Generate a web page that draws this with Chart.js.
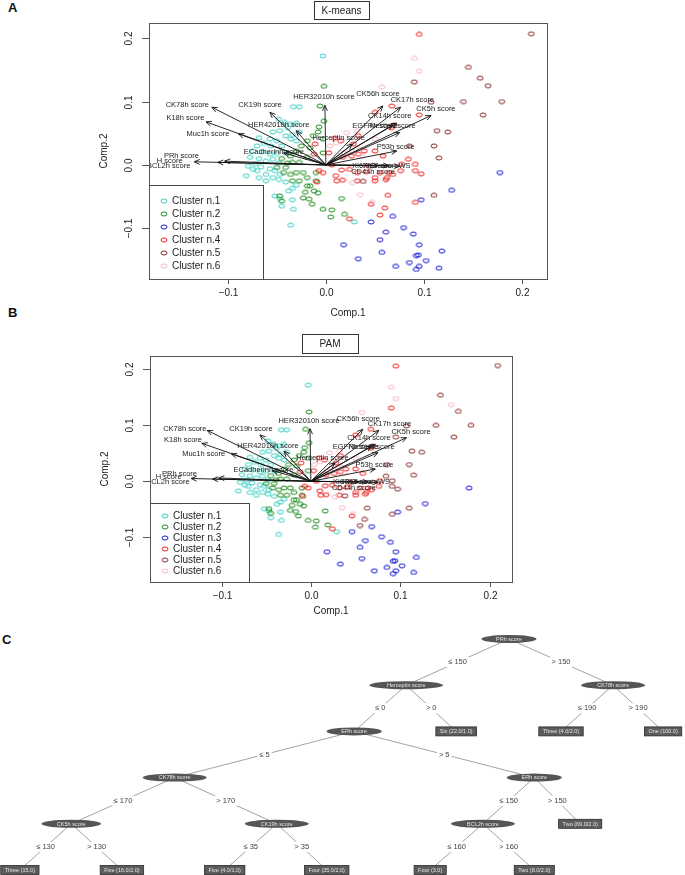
<!DOCTYPE html>
<html>
<head>
<meta charset="utf-8">
<script src="https://cdn.jsdelivr.net/npm/chart.js@4.4.1/dist/chart.umd.min.js"></script>
<style>
  html,body{margin:0;padding:0;background:#fff;}
  #wrap{position:relative;width:685px;height:875px;overflow:hidden;font-family:"Liberation Sans",Arial,sans-serif;}
  canvas{position:absolute;left:0;}
  .tag{position:absolute;font-weight:bold;font-size:13px;color:#111;}
</style>
</head>
<body>
<div id="wrap">
  <div class="tag" style="left:8px;top:0px;">A</div>
  <div class="tag" style="left:8px;top:305px;">B</div>
  <div class="tag" style="left:2px;top:632px;">C</div>
  <canvas id="kmChart" width="685" height="330" style="top:0"></canvas>
  <canvas id="pamChart" width="685" height="295" style="top:325px"></canvas>
  <canvas id="treeChart" width="685" height="275" style="top:600px"></canvas>
</div>
<script>
'use strict';

// --- PCA scores, K-means clusters (Comp.1, Comp.2) ---
const kmC1 = [[-0.003,0.172],[-0.033,0.092],[-0.027,0.092],[-0.048,0.072],[-0.042,0.067],[-0.036,0.064],[-0.030,0.066],[-0.039,0.059],[-0.047,0.054],[-0.054,0.052],[-0.027,0.052],[-0.034,0.048],[-0.041,0.046],[-0.068,0.043],[-0.057,0.041],[-0.050,0.038],[-0.063,0.034],[-0.056,0.030],[-0.070,0.030],[-0.045,0.030],[-0.074,0.022],[-0.065,0.021],[-0.057,0.017],[-0.050,0.018],[-0.041,0.019],[-0.077,0.012],[-0.068,0.010],[-0.061,0.006],[-0.054,0.009],[-0.048,0.003],[-0.072,0.002],[-0.079,-0.002],[-0.066,-0.003],[-0.057,-0.006],[-0.052,-0.009],[-0.070,-0.009],[-0.061,-0.015],[-0.047,-0.015],[-0.068,-0.020],[-0.054,-0.020],[-0.061,-0.025],[-0.048,-0.023],[-0.041,-0.027],[-0.052,-0.049],[-0.047,-0.053],[-0.038,-0.041],[-0.034,-0.037],[-0.030,-0.032],[-0.034,-0.055],[-0.045,-0.065],[-0.033,-0.070],[-0.036,-0.095],[0.029,-0.090],[-0.036,0.041],[-0.030,0.038],[-0.081,-0.017],[-0.074,-0.007]];
const kmC2 = [[-0.002,0.124],[-0.006,0.093],[-0.002,0.069],[-0.007,0.060],[-0.008,0.052],[-0.013,0.046],[-0.003,0.041],[-0.019,0.038],[-0.025,0.030],[-0.016,0.027],[-0.003,0.019],[-0.030,0.022],[-0.036,0.014],[-0.045,0.010],[-0.019,0.012],[-0.027,0.004],[-0.039,0.003],[-0.050,-0.004],[-0.043,-0.012],[-0.036,-0.015],[-0.030,-0.012],[-0.023,-0.012],[-0.019,-0.020],[-0.027,-0.025],[-0.016,-0.033],[-0.010,-0.025],[-0.021,-0.043],[-0.012,-0.041],[-0.008,-0.044],[-0.023,-0.052],[-0.017,-0.054],[-0.045,-0.057],[-0.047,-0.049],[-0.014,-0.062],[-0.003,-0.070],[0.006,-0.071],[0.005,-0.082],[0.016,-0.053],[0.019,-0.078],[-0.034,0.004],[-0.041,-0.004],[-0.010,-0.012],[-0.034,-0.025],[-0.019,-0.033]];
const kmC3 = [[0.177,-0.012],[0.128,-0.040],[0.097,-0.055],[0.068,-0.081],[0.079,-0.099],[0.089,-0.109],[0.061,-0.106],[0.055,-0.118],[0.095,-0.126],[0.118,-0.136],[0.057,-0.138],[0.092,-0.143],[0.094,-0.142],[0.102,-0.151],[0.085,-0.154],[0.071,-0.160],[0.095,-0.160],[0.092,-0.165],[0.115,-0.163],[0.018,-0.126],[0.033,-0.148],[0.046,-0.090]];
const kmC4 = [[0.095,0.206],[0.095,0.079],[0.067,0.093],[0.084,0.009],[0.091,0.001],[0.077,0.001],[0.091,-0.009],[0.097,-0.014],[0.076,-0.009],[0.068,-0.015],[0.062,-0.020],[0.063,-0.048],[0.091,-0.059],[0.060,-0.068],[0.055,-0.079],[-0.011,0.033],[-0.012,0.017],[-0.007,-0.009],[-0.009,-0.027],[0.009,0.042],[0.015,0.038],[0.028,0.033],[0.033,0.046],[0.003,0.019],[0.017,0.012],[0.033,0.017],[0.039,0.022],[0.050,0.022],[0.058,0.014],[0.006,0.000],[-0.003,-0.012],[0.010,-0.017],[0.016,-0.008],[0.011,-0.025],[0.017,-0.024],[0.024,-0.007],[0.032,-0.012],[0.032,-0.025],[0.041,-0.011],[0.050,-0.020],[0.050,-0.025],[0.055,-0.012],[0.061,-0.023],[0.064,-0.012],[0.046,-0.062],[0.024,-0.085],[0.050,0.083],[0.069,0.063],[0.067,0.059],[0.026,0.014],[0.044,-0.002]];
const kmC5 = [[0.209,0.207],[0.090,0.131],[0.145,0.154],[0.157,0.137],[0.165,0.125],[0.140,0.100],[0.179,0.100],[0.160,0.079],[0.107,0.099],[0.113,0.054],[0.124,0.052],[0.110,0.030],[0.085,0.030],[0.115,0.011],[0.110,-0.048],[0.038,-0.026]];
const kmC6 = [[0.090,0.168],[0.095,0.148],[0.057,0.123],[0.004,0.030],[0.010,0.035],[0.019,0.019],[0.026,0.022],[0.035,0.025],[0.037,0.014],[0.027,-0.028],[0.035,-0.047],[0.047,-0.058],[0.021,0.051],[0.050,0.041],[0.032,0.054]];

// points that PAM puts in another cluster: [Comp.1, Comp.2, new cluster]
const pamMoves = [[0.157,0.137,6],[0.090,0.131,4],[0.095,0.079,5],[0.084,0.009,5],[0.091,0.001,5],[0.091,-0.009,5],[0.097,-0.014,5],[0.063,-0.048,5],[0.091,-0.059,5],[0.060,-0.068,5],[0.055,-0.079,5]];

const clusterNames  = ['Cluster n.1','Cluster n.2','Cluster n.3','Cluster n.4','Cluster n.5','Cluster n.6'];
const clusterColors = ['#3ccfc4','#1e8c1e','#1818d8','#f02020','#8b2c2c','#f7b8c2'];

// --- loadings: arrow tips and label anchors ---
const loadNames = ['CK78h score','K18h score','Muc1h score','CK19h score','HER42010h score','ECadherinh score','PRh score','H score','BCL2h score','HER32010h score','Herceptin score','CK56h score','CK17h score','CK5h score','CK14h score','EGFRh score','Nestinh score','P53h score','Ki67h score','Ki67 scoreWS','CD44h score'];
const loadTipX  = [-0.116,-0.122,-0.089,-0.057,-0.030,-0.043,-0.134,-0.110,-0.103,-0.001,0.027,0.058,0.076,0.107,0.072,0.068,0.075,0.072,0.075,0.064,0.053];
const loadTipY  = [0.091,0.068,0.049,0.083,0.054,0.019,0.005,0.004,0.006,0.094,0.033,0.093,0.091,0.078,0.066,0.063,0.051,0.022,-0.002,-0.001,-0.001];
const loadLabX  = [-0.141,-0.143,-0.120,-0.067,-0.048,-0.053,-0.147,-0.159,-0.160,-0.002,0.013,0.053,0.088,0.112,0.065,0.050,0.068,0.071,0.047,0.062,0.048];
const loadLabY  = [0.094,0.074,0.049,0.094,0.063,0.021,0.014,0.007,-0.002,0.108,0.042,0.112,0.103,0.089,0.077,0.061,0.061,0.029,-0.002,-0.002,-0.011];

const axisTicks = [-0.1, 0.0, 0.1, 0.2];

// --- decision tree (J48) ---
const treeLabels = ['PRh score','Herceptin score','CK78h score','ERh score','Six (22.0/1.0)','Three (4.0/2.0)','One (100.0)','CK78h score','ERh score','CK5h score','CK19h score','BCL2h score','Two (69.0/2.0)','Three (15.0)','Five (16.0/2.0)','Five (4.0/1.0)','Four (35.0/2.0)','Four (3.0)','Two (8.0/2.0)'];
const treeLeaf   = [0,0,0,0,1,1,1,0,0,0,0,0,1,1,1,1,1,1,1];
const treeParent = [-1,0,0,1,1,2,2,3,3,7,7,8,8,9,9,10,10,11,11];
const treeEdge   = ['','\u2264 150','> 150','\u2264 0','> 0','\u2264 190','> 190','\u2264 5','> 5','\u2264 170','> 170','\u2264 150','> 150','\u2264 130','> 130','\u2264 35','> 35','\u2264 160','> 160'];
const treeLevel  = [0,1,1,2,2,2,2,3,3,4,4,4,4,5,5,5,5,5,5];
const treeX      = [74.3,59.3,89.5,51.7,66.6,81.9,96.8,25.5,78.0,10.4,40.4,70.5,84.7,2.9,17.8,32.8,47.7,62.8,78.0];

const FONT = '"Liberation Sans", Arial, sans-serif';

function ring(color, w, h) {
    const c = document.createElement('canvas');
    c.width = w + 2; c.height = h + 2;
    const g = c.getContext('2d');
    g.strokeStyle = color; g.lineWidth = 1;
    g.beginPath(); g.ellipse(c.width/2, c.height/2, w/2, h/2, 0, 0, Math.PI*2); g.stroke();
    return c;
}

function clusterSets(lists, w, h) {
    return lists.map((pts, i) => ({
        label: clusterNames[i],
        data: pts.map(p => ({ x:p[0], y:p[1] })),
        pointStyle: ring(clusterColors[i], w, h),
        borderColor: clusterColors[i],
        order: 6 - i
    }));
}

function pamLists() {
    const out = [kmC1,kmC2,kmC3,kmC4,kmC5,kmC6].map(l => l.map(p => p.slice()));
    pamMoves.forEach(m => {
        let best = null, bd = 1e9;
        out.forEach((l, ci) => l.forEach((p, pi) => {
            const d = Math.hypot(p[0]-m[0], p[1]-m[1]);
            if (d < bd) { bd = d; best = [ci, pi]; }
        }));
        const p = out[best[0]].splice(best[1], 1)[0];
        out[m[2]-1].push(p);
    });
    return out;
}

const biplotPlugin = {
    id:'biplot',
    afterDatasetsDraw(chart, args, o) {
        const { ctx, chartArea:a, scales:{ x, y } } = chart;
        const x0 = x.getPixelForValue(0), y0 = y.getPixelForValue(0);
        ctx.save();
        ctx.beginPath(); ctx.rect(a.left, a.top, a.right-a.left, a.bottom-a.top); ctx.clip();
        ctx.strokeStyle = '#111'; ctx.lineWidth = 0.9;
        loadNames.forEach((n, i) => {
            const x1 = x.getPixelForValue(loadTipX[i]), y1 = y.getPixelForValue(loadTipY[i]);
            const ang = Math.atan2(y1-y0, x1-x0), L = 6, sp = 0.42;
            ctx.beginPath();
            ctx.moveTo(x0, y0); ctx.lineTo(x1, y1);
            ctx.moveTo(x1 - L*Math.cos(ang-sp), y1 - L*Math.sin(ang-sp));
            ctx.lineTo(x1, y1);
            ctx.lineTo(x1 - L*Math.cos(ang+sp), y1 - L*Math.sin(ang+sp));
            ctx.stroke();
        });
        ctx.fillStyle = '#222'; ctx.font = '7.5px ' + FONT;
        ctx.textAlign = 'center'; ctx.textBaseline = 'middle';
        loadNames.forEach((n, i) => ctx.fillText(n, x.getPixelForValue(loadLabX[i]), y.getPixelForValue(loadLabY[i])));
        ctx.restore();

        ctx.save();
        // legend
        const lg = o.legend;
        const lt = a.bottom - lg.h;
        ctx.fillStyle = '#fff'; ctx.fillRect(a.left, lt, lg.w, lg.h);
        ctx.strokeStyle = '#444'; ctx.lineWidth = 1;
        ctx.strokeRect(a.left + 0.5, lt + 0.5, lg.w, lg.h);
        ctx.font = '10px ' + FONT; ctx.textBaseline = 'middle'; ctx.textAlign = 'left';
        clusterNames.forEach((n, i) => {
            const yy = lt + lg.first + i * lg.row;
            ctx.strokeStyle = clusterColors[i];
            ctx.beginPath(); ctx.ellipse(a.left + 15, yy, 3, 2, 0, 0, Math.PI*2); ctx.stroke();
            ctx.fillStyle = '#222'; ctx.fillText(n, a.left + 23, yy + 0.5);
        });
        // box
        ctx.strokeStyle = '#555'; ctx.lineWidth = 1;
        ctx.strokeRect(Math.round(a.left) + 0.5, Math.round(a.top) + 0.5, Math.round(a.right - a.left), Math.round(a.bottom - a.top));
        // axes
        ctx.fillStyle = '#222'; ctx.textAlign = 'center';
        axisTicks.forEach(v => {
            const px = Math.round(x.getPixelForValue(v)) + 0.5;
            ctx.beginPath(); ctx.moveTo(px, a.bottom); ctx.lineTo(px, a.bottom + 5); ctx.stroke();
            ctx.fillText(v.toFixed(1).replace('-', '\u2212'), px, a.bottom + 14);
            const py = Math.round(y.getPixelForValue(v)) + 0.5;
            ctx.beginPath(); ctx.moveTo(a.left - 7, py); ctx.lineTo(a.left, py); ctx.stroke();
            ctx.save(); ctx.translate(a.left - 20, py); ctx.rotate(-Math.PI/2);
            ctx.fillText(v.toFixed(1).replace('-', '\u2212'), 0, 0); ctx.restore();
        });
        ctx.fillText('Comp.1', (a.left + a.right)/2, a.bottom + o.xTitle);
        ctx.save(); ctx.translate(a.left - 45, (a.top + a.bottom)/2); ctx.rotate(-Math.PI/2);
        ctx.fillText('Comp.2', 0, 0); ctx.restore();
        // title box
        const tb = o.titleBox;
        ctx.strokeStyle = '#333';
        ctx.strokeRect(tb[0] + 0.5, tb[1] + 0.5, tb[2], tb[3]);
        ctx.fillText(o.title, tb[0] + tb[2]/2, tb[1] + tb[3]/2 + 1);
        ctx.restore();
    }
};

function biplot(id, lists, w, h, pad, extra) {
    return new Chart(document.getElementById(id), {
        type:'scatter',
        data:{ datasets: clusterSets(lists, w, h) },
        options:{
            responsive:false, animation:false, events:[],
            layout:{ padding:pad },
            plugins:{ legend:{ display:false }, tooltip:{ enabled:false }, biplot:extra },
            scales:{
                x:{ type:'linear', min:-0.18, max:0.225, display:false },
                y:{ type:'linear', min:-0.18, max:0.224, display:false }
            }
        },
        plugins:[biplotPlugin]
    });
}

window.kmChart = biplot('kmChart', [kmC1,kmC2,kmC3,kmC4,kmC5,kmC6], 6, 4,
    { left:149, top:23, right:138, bottom:51 },
    { title:'K-means', titleBox:[314,1,55,18], legend:{ w:114, h:94, row:13, first:16 }, xTitle:34 });

window.pamChart = biplot('pamChart', pamLists(), 6, 4,
    { left:150, top:31, right:173, bottom:38 },
    { title:'PAM', titleBox:[302,9,56,19], legend:{ w:99, h:79, row:11, first:13 }, xTitle:29 });

const treePlugin = {
    id:'tree',
    afterDatasetsDraw(chart) {
        const { ctx, scales:{ x, y } } = chart;
        ctx.save();
        ctx.textAlign = 'center'; ctx.textBaseline = 'middle';
        // edge labels
        ctx.font = '7.5px ' + FONT;
        treeLabels.forEach((n, i) => {
            const p = treeParent[i];
            if (p < 0) return;
            const mx = (x.getPixelForValue(treeX[i]) + x.getPixelForValue(treeX[p]))/2;
            const my = (y.getPixelForValue(treeLevel[i]) + y.getPixelForValue(treeLevel[p]))/2;
            const tw = ctx.measureText(treeEdge[i]).width;
            ctx.fillStyle = '#fff'; ctx.fillRect(mx - tw/2 - 2, my - 5, tw + 4, 10);
            ctx.fillStyle = '#444'; ctx.fillText(treeEdge[i], mx, my);
        });
        // nodes
        ctx.font = '5.5px ' + FONT;
        treeLabels.forEach((n, i) => {
            const px = x.getPixelForValue(treeX[i]), py = y.getPixelForValue(treeLevel[i]);
            const tw = ctx.measureText(n).width;
            if (treeLeaf[i]) {
                const w = tw + 8, h = 9;
                ctx.fillStyle = '#5c5c5c'; ctx.fillRect(px - w/2, py - h/2, w, h);
                ctx.strokeStyle = '#2a2a2a'; ctx.lineWidth = 0.8; ctx.strokeRect(px - w/2, py - h/2, w, h);
            } else {
                const rx = (tw * 1.45 + 18)/2;
                ctx.fillStyle = '#555';
                ctx.beginPath(); ctx.ellipse(px, py, rx, 4, 0, 0, Math.PI*2); ctx.fill();
            }
            ctx.fillStyle = '#e6e6e6'; ctx.fillText(n, px, py + 0.3);
        });
        ctx.restore();
    }
};

const treeEdges = [];
treeLabels.forEach((n, i) => {
    const p = treeParent[i];
    if (p < 0) return;
    treeEdges.push({
        data:[{ x:treeX[p], y:treeLevel[p] }, { x:treeX[i], y:treeLevel[i] }],
        showLine:true, borderColor:'#8a8a8a', borderWidth:0.8, pointRadius:0
    });
});

window.treeChart = new Chart(document.getElementById('treeChart'), {
    type:'scatter',
    data:{ datasets:treeEdges },
    options:{
        responsive:false, animation:false, events:[],
        layout:{ padding:{ left:0, right:0, top:39, bottom:5 } },
        plugins:{ legend:{ display:false }, tooltip:{ enabled:false } },
        scales:{
            x:{ type:'linear', min:0, max:100, display:false },
            y:{ type:'linear', min:0, max:5, reverse:true, display:false }
        }
    },
    plugins:[treePlugin]
});
</script>
</body>
</html>
